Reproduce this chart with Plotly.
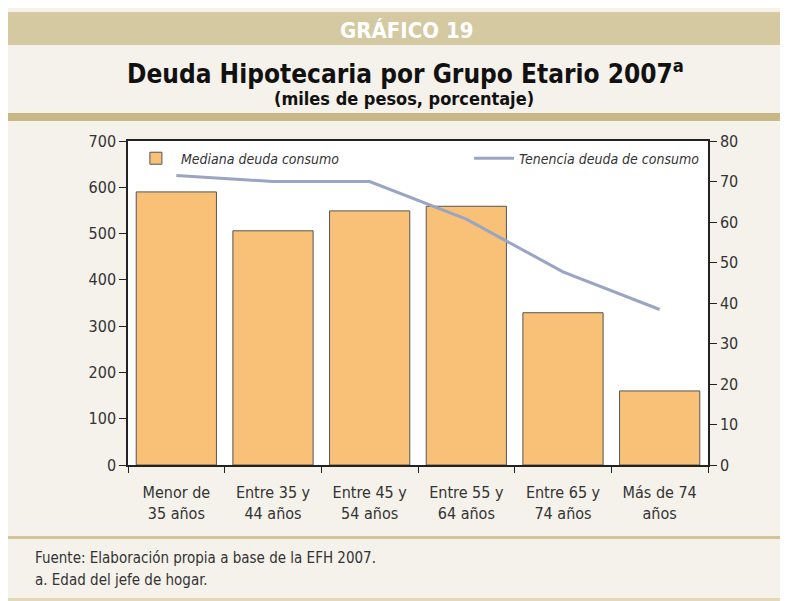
import plotly.graph_objects as go

categories = ["Menor de<br>35 años", "Entre 35 y<br>44 años", "Entre 45 y<br>54 años",
              "Entre 55 y<br>64 años", "Entre 65 y<br>74 años", "Más de 74<br>años"]
mediana = [590, 506, 549, 559, 329, 160]
tenencia = [71.5, 70.0, 70.0, 60.7, 47.7, 38.4]
left_ticks = [0, 100, 200, 300, 400, 500, 600, 700]
right_ticks = [0, 10, 20, 30, 40, 50, 60, 70, 80]

FONT = "DejaVu Sans Condensed, Liberation Sans Narrow, sans-serif"
OFF = 8  # page body margin
W, H = 788 - OFF, 601 - OFF
L, R, T, B = 128 - OFF, 708 - OFF, 141 - OFF, 465 - OFF

def px(x):
    return (x - OFF - L) / (R - L)

def py(y):
    return (B - (y - OFF)) / (B - T)

fig = go.Figure()
fig.add_trace(go.Bar(
    x=categories, y=mediana, name="Mediana deuda consumo",
    marker=dict(color="#F9C077", line=dict(color="#555555", width=1)),
    legend="legend", showlegend=True,
))
fig.add_trace(go.Scatter(
    x=categories, y=tenencia, name="Tenencia deuda de consumo", yaxis="y2",
    mode="lines", line=dict(color="#9AA4C3", width=3),
    legend="legend2", showlegend=True,
))

def band(y0, y1, color):
    return dict(type="rect", xref="paper", yref="paper", x0=px(8), x1=px(800),
                y0=py(y1), y1=py(y0), fillcolor=color, line=dict(width=0), layer="below")

shapes = [
    band(12, 45, "#D5C9A2"),
    band(45, 113, "#F5F2EB"),
    band(113, 121, "#C8B886"),
    band(536, 539, "#D2C49A"),
    band(598, 601, "#E3D9B8"),
]

def ann(text, x, y, size, color="#111111", xanchor="center"):
    return dict(text=text, x=px(x), y=py(y), xref="paper", yref="paper", showarrow=False,
                xanchor=xanchor, yanchor="middle", font=dict(family=FONT, size=size, color=color))

annotations = [
    ann("<b>GRÁFICO 19</b>", 406, 30, 22, "white"),
    ann("<b>Deuda Hipotecaria por Grupo Etario 2007<sup>a</sup></b>", 405, 72, 26),
    ann("<b>(miles de pesos, porcentaje)</b>", 404, 98, 18),
    ann("Fuente: Elaboración propia a base de la EFH 2007.", 33, 558, 15, "#333333", "left"),
    ann("a. Edad del jefe de hogar.", 33, 580, 15, "#333333", "left"),
]

tickfont = dict(family=FONT, size=16, color="#333333")
legfont = dict(family=FONT, size=14, color="#333333", style="italic")

fig.update_layout(
    width=W, height=H,
    margin=dict(l=L, r=W - R, t=T, b=H - B, pad=0),
    paper_bgcolor="#F5F2EB", plot_bgcolor="white",
    font=dict(family=FONT, size=16, color="#333333"),
    showlegend=True,
    bargap=0.17,
    shapes=shapes, annotations=annotations,
    xaxis=dict(showline=True, linecolor="#222222", linewidth=1.5, mirror=True,
               ticks="outside", tickson="boundaries", ticklen=6, tickcolor="#222222",
               ticklabelstandoff=12, tickfont=tickfont),
    yaxis=dict(range=[0, 700], tickvals=left_ticks, showgrid=False, zeroline=False,
               showline=True, linecolor="#222222", linewidth=1.5,
               ticks="outside", ticklen=7, tickcolor="#222222", tickfont=tickfont),
    yaxis2=dict(range=[0, 80], tickvals=right_ticks, overlaying="y", side="right",
                showgrid=False, zeroline=False, showline=True, linecolor="#222222",
                linewidth=1.5, ticks="outside", ticklen=7, tickcolor="#222222",
                tickfont=tickfont),
    legend=dict(x=0.005, y=0.995, xanchor="left", yanchor="top", bgcolor="rgba(0,0,0,0)",
                font=legfont, itemwidth=40),
    legend2=dict(x=0.995, y=0.995, xanchor="right", yanchor="top", bgcolor="rgba(0,0,0,0)",
                 font=legfont, itemwidth=40),
)

fig.write_html("out.html")
